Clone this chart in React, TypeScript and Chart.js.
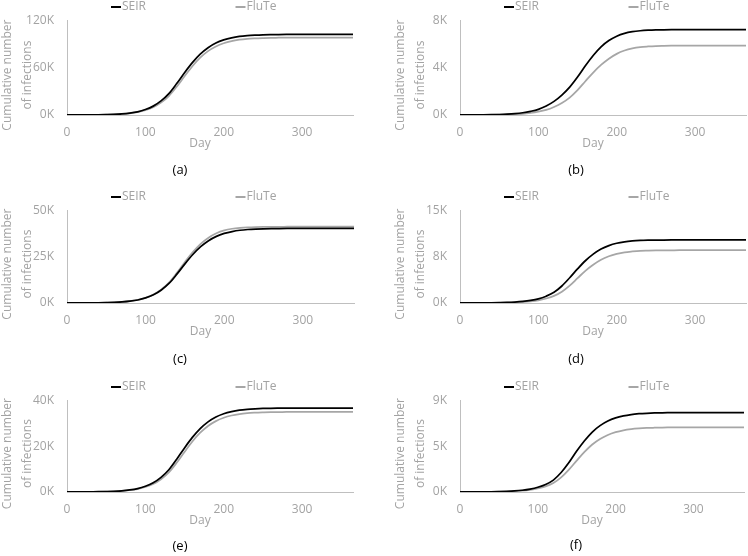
import { useEffect, useRef } from 'react';
import { Chart, registerables } from 'chart.js';

Chart.register(...registerables);

// ---------- data ----------
const days = [0, 10, 20, 30, 40, 50, 60, 70, 80, 90, 100, 110, 120, 130, 140, 150, 160, 170, 180, 190, 200, 210, 220, 230, 240, 250, 260, 270, 280, 290, 300, 310, 320, 330, 340, 350, 360, 365];

const seriesNames = ['SEIR', 'FluTe'];

const seirA = [0, 51, 102, 204, 306, 510, 816, 1428, 2448, 4080, 6936, 11220, 17850, 27030, 39780, 53550, 66300, 77010, 85170, 91090, 95060, 97720, 99450, 100470, 101080, 101490, 101690, 101800, 101900, 102000, 102000, 102000, 102000, 102000, 102000, 102000, 102000, 102000];
const fluteA = [0, 49, 98, 196, 294, 470, 755, 1274, 2156, 3626, 6076, 9800, 15680, 24010, 35770, 49000, 61740, 72520, 80850, 86730, 90850, 93590, 95350, 96430, 97020, 97410, 97710, 97800, 97900, 98000, 98000, 98000, 98000, 98000, 98000, 98000, 98000, 98000];

const seirB = [0, 5, 9, 15, 25, 42, 70, 115, 190, 310, 480, 760, 1150, 1680, 2350, 3200, 4150, 5020, 5750, 6280, 6650, 6890, 7030, 7110, 7155, 7180, 7190, 7197, 7200, 7200, 7200, 7200, 7200, 7200, 7200, 7200, 7200, 7200];
const fluteB = [0, 3, 5, 9, 14, 23, 38, 63, 100, 170, 276, 430, 680, 1015, 1470, 2100, 2850, 3580, 4225, 4750, 5160, 5440, 5620, 5730, 5785, 5820, 5835, 5845, 5850, 5850, 5850, 5850, 5850, 5850, 5850, 5850, 5850, 5850];

const seirC = [0, 20, 40, 80, 120, 200, 320, 560, 960, 1610, 2730, 4420, 7040, 10650, 15680, 21100, 26130, 30350, 33570, 35900, 37470, 38510, 39200, 39600, 39840, 40000, 40080, 40120, 40160, 40200, 40200, 40200, 40200, 40200, 40200, 40200, 40200, 40200];
const fluteC = [0, 20, 40, 80, 125, 205, 330, 580, 1000, 1680, 2850, 4620, 7350, 11150, 16400, 22100, 27400, 31850, 35200, 37550, 39100, 40000, 40500, 40780, 40930, 41010, 41050, 41070, 41090, 41100, 41100, 41100, 41100, 41100, 41100, 41100, 41100, 41100];

const seirD = [0, 5, 10, 20, 31, 51, 82, 143, 245, 408, 663, 1100, 1730, 2750, 4080, 5510, 6830, 7900, 8720, 9280, 9660, 9890, 10030, 10110, 10150, 10170, 10180, 10190, 10200, 10200, 10200, 10200, 10200, 10200, 10200, 10200, 10200, 10200];
const fluteD = [0, 3, 7, 13, 22, 35, 60, 94, 154, 256, 427, 725, 1150, 1830, 2815, 4010, 5200, 6180, 6990, 7550, 7930, 8190, 8330, 8430, 8470, 8500, 8510, 8520, 8530, 8530, 8530, 8530, 8530, 8530, 8530, 8530, 8530, 8530];

const seirE = [0, 18, 37, 73, 110, 183, 293, 512, 878, 1464, 2490, 4030, 6400, 9700, 14270, 19220, 23790, 27630, 30560, 32680, 34110, 35060, 35690, 36050, 36270, 36420, 36490, 36530, 36560, 36600, 36600, 36600, 36600, 36600, 36600, 36600, 36600, 36600];
const fluteE = [0, 17, 35, 70, 105, 168, 269, 454, 768, 1291, 2164, 3490, 5584, 8551, 12740, 17450, 21990, 25830, 28790, 30890, 32350, 33330, 33960, 34340, 34550, 34690, 34800, 34830, 34870, 34900, 34900, 34900, 34900, 34900, 34900, 34900, 34900, 34900];

const seirF = [0, 4, 8, 16, 23, 39, 62, 101, 171, 288, 467, 740, 1169, 1909, 2882, 4012, 5025, 5881, 6505, 6956, 7260, 7463, 7595, 7673, 7720, 7751, 7767, 7774, 7782, 7790, 7790, 7790, 7790, 7790, 7790, 7790, 7790, 7790];
const fluteF = [0, 3, 6, 11, 18, 29, 46, 76, 127, 216, 349, 552, 875, 1427, 2187, 3075, 3931, 4660, 5199, 5592, 5865, 6048, 6162, 6232, 6277, 6302, 6321, 6327, 6334, 6340, 6340, 6340, 6340, 6340, 6340, 6340, 6340, 6340];

const yTicksA = [0, 60000, 120000];
const yLabelsA = ['0K', '60K', '120K'];
const yTicksB = [0, 4000, 8000];
const yLabelsB = ['0K', '4K', '8K'];
const yTicksC = [0, 25000, 50000];
const yLabelsC = ['0K', '25K', '50K'];
const yTicksD = [0, 7500, 15000];
const yLabelsD = ['0K', '8K', '15K'];
const yTicksE = [0, 20000, 40000];
const yLabelsE = ['0K', '20K', '40K'];
const yTicksF = [0, 4500, 9000];
const yLabelsF = ['0K', '5K', '9K'];

const xTicks = [0, 100, 200, 300];
const xMax = 365;
const xTitle = 'Day';
const yTitle = ['Cumulative number', 'of infections'];
const panelLabels = ['(a)', '(b)', '(c)', '(d)', '(e)', '(f)'];

// ---------- styling / layout ----------
const FONT = '"Open Sans", "DejaVu Sans", sans-serif';
const TEXT_GRAY = '#a3a3a3';
const AXIS_GRAY = '#bfbfbf';
const SEIR_COLOR = '#000000';
const FLUTE_COLOR = '#a6a6a6';
const W = 374;

const panels = [
  { label: panelLabels[0], seir: seirA, flute: fluteA, yTicks: yTicksA, yLabels: yLabelsA, left: 0, top: 0, h: 190, L: 67, R: 353, T: 17, B: 115, labelX: 180, labelY: 170 },
  { label: panelLabels[1], seir: seirB, flute: fluteB, yTicks: yTicksB, yLabels: yLabelsB, left: 374, top: 0, h: 190, L: 86, R: 372, T: 19, B: 115, labelX: 202, labelY: 170 },
  { label: panelLabels[2], seir: seirC, flute: fluteC, yTicks: yTicksC, yLabels: yLabelsC, left: 0, top: 190, h: 190, L: 67, R: 354, T: 17, B: 113, labelX: 180, labelY: 169 },
  { label: panelLabels[3], seir: seirD, flute: fluteD, yTicks: yTicksD, yLabels: yLabelsD, left: 374, top: 190, h: 190, L: 86, R: 372, T: 17, B: 113, labelX: 202, labelY: 169 },
  { label: panelLabels[4], seir: seirE, flute: fluteE, yTicks: yTicksE, yLabels: yLabelsE, left: 0, top: 380, h: 176, L: 67, R: 353, T: 17, B: 112, labelX: 180, labelY: 166 },
  { label: panelLabels[5], seir: seirF, flute: fluteF, yTicks: yTicksF, yLabels: yLabelsF, left: 374, top: 380, h: 176, L: 86, R: 370, T: 17, B: 112, labelX: 202, labelY: 165 },
];

const panelTextPlugin = {
  id: 'panelText',
  afterDraw(chart: any, _args: any, opts: any) {
    const { ctx, chartArea: ca } = chart;
    ctx.save();
    ctx.font = `12px ${FONT}`;
    ctx.textBaseline = 'middle';
    // legend
    const legendOffsets = [44, 168.5];
    chart.data.datasets.forEach((ds: any, i: number) => {
      const x0 = ca.left + legendOffsets[i];
      const y0 = 7;
      ctx.strokeStyle = ds.borderColor;
      ctx.lineWidth = 2;
      ctx.beginPath();
      ctx.moveTo(x0, y0);
      ctx.lineTo(x0 + 10, y0);
      ctx.stroke();
      ctx.fillStyle = TEXT_GRAY;
      ctx.textAlign = 'left';
      ctx.fillText(ds.label, x0 + 11, y0);
    });
    // y title
    ctx.fillStyle = TEXT_GRAY;
    const cy = (ca.top + ca.bottom) / 2 + 7.5;
    yTitle.forEach((line, j) => {
      ctx.save();
      ctx.translate(ca.left - 59 + j * 19.5, cy);
      ctx.rotate(-Math.PI / 2);
      ctx.textAlign = 'center';
      ctx.fillText(line, 0, 0);
      ctx.restore();
    });
    // x title
    ctx.textAlign = 'center';
    ctx.fillText(xTitle, (ca.left + ca.right) / 2 - 10, ca.bottom + 28.5);
    // panel label
    ctx.fillStyle = '#000000';
    ctx.font = `13px ${FONT}`;
    ctx.fillText(opts.label, opts.labelX, opts.labelY);
    ctx.restore();
  },
};

function Panel({ p }: { p: any }) {
  const ref = useRef<HTMLCanvasElement | null>(null);
  useEffect(() => {
    if (!ref.current) return;
    const toPts = (vals: number[]) => days.map((d, i) => ({ x: d, y: vals[i] }));
    const chart = new Chart(ref.current, {
      type: 'line',
      data: {
        datasets: [
          { label: seriesNames[0], data: toPts(p.seir), borderColor: SEIR_COLOR, backgroundColor: SEIR_COLOR, borderWidth: 1.75, pointRadius: 0, cubicInterpolationMode: 'monotone', fill: false },
          { label: seriesNames[1], data: toPts(p.flute), borderColor: FLUTE_COLOR, backgroundColor: FLUTE_COLOR, borderWidth: 1.75, pointRadius: 0, cubicInterpolationMode: 'monotone', fill: false },
        ],
      },
      options: {
        animation: false,
        responsive: false,
        maintainAspectRatio: false,
        devicePixelRatio: 1,
        layout: { padding: { left: 0, top: p.T, right: W - p.R, bottom: 0 } },
        plugins: {
          legend: { display: false },
          tooltip: { enabled: false },
          panelText: { label: p.label, labelX: p.labelX, labelY: p.labelY },
        } as any,
        scales: {
          x: {
            type: 'linear',
            min: 0,
            max: xMax,
            grid: { display: false, drawTicks: false },
            border: { display: true, color: AXIS_GRAY, width: 1 },
            ticks: { color: TEXT_GRAY, font: { family: FONT, size: 12 }, padding: 10, autoSkip: false, maxRotation: 0, callback: (v: any) => String(v) },
            afterBuildTicks: (s: any) => { s.ticks = xTicks.map((v) => ({ value: v })); },
            afterFit: (s: any) => { s.height = p.h - p.B; },
          },
          y: {
            type: 'linear',
            min: 0,
            max: p.yTicks[p.yTicks.length - 1],
            grid: { display: false, drawTicks: false },
            border: { display: true, color: AXIS_GRAY, width: 1 },
            ticks: {
              color: TEXT_GRAY,
              font: { family: FONT, size: 12 },
              padding: 13,
              callback: (v: any) => { const i = p.yTicks.indexOf(v); return i >= 0 ? p.yLabels[i] : ''; },
            },
            afterBuildTicks: (s: any) => { s.ticks = p.yTicks.map((v: number) => ({ value: v })); },
            afterFit: (s: any) => { s.width = p.L; },
          },
        },
      } as any,
      plugins: [panelTextPlugin],
    });
    return () => chart.destroy();
  }, [p]);
  return (
    <div style={{ position: 'absolute', left: p.left, top: p.top, width: W, height: p.h }}>
      <canvas ref={ref} width={W} height={p.h} style={{ width: W, height: p.h, display: 'block' }} />
    </div>
  );
}

export default function App() {
  return (
    <div style={{ position: 'absolute', left: 0, top: 0, width: 748, height: 556, background: '#ffffff', overflow: 'hidden' }}>
      {panels.map((p) => (
        <Panel key={p.label} p={p} />
      ))}
    </div>
  );
}
